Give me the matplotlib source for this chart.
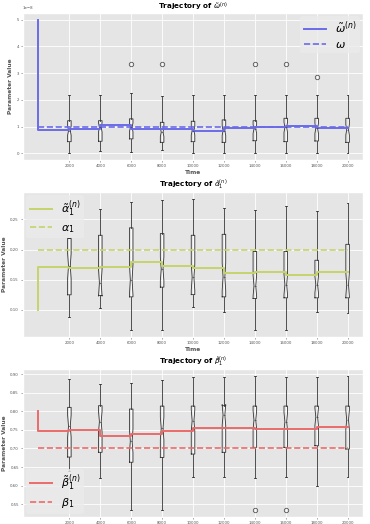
import numpy as np
import matplotlib
matplotlib.use("Agg")
import matplotlib.pyplot as plt

plt.style.use("ggplot")

# ---------------- data ----------------
times = [0, 2000, 4000, 6000, 8000, 10000, 12000, 14000, 16000, 18000, 20000]
positions = [2000, 4000, 6000, 8000, 10000, 12000, 14000, 16000, 18000, 20000]
tick_labels = [str(p) for p in positions]
n_samples = 50  # sample size used for the notch confidence interval

# omega (units of 1e-8)
omega_est = [5.0, 0.875, 0.91, 1.07, 0.91, 0.91, 0.85, 0.94, 0.97, 1.02, 0.94]
omega_true = 1.0
omega_q1 = [0.435, 0.45, 0.54, 0.41, 0.435, 0.41, 0.47, 0.435, 0.46, 0.41]
omega_med = [0.85, 0.97, 0.97, 0.79, 0.85, 0.85, 0.91, 0.97, 0.93, 0.88]
omega_q3 = [1.22, 1.22, 1.29, 1.16, 1.20, 1.25, 1.22, 1.31, 1.31, 1.31]
omega_lo = [0.0, 0.086, 0.06, 0.12, 0.0, 0.0, 0.0, 0.0, 0.0, 0.0]
omega_hi = [2.18, 2.18, 2.25, 2.14, 2.2, 2.18, 2.18, 2.18, 2.18, 2.18]
omega_fliers = [[], [], [3.33], [3.33], [], [], [3.33], [3.33], [2.85], []]

# alpha_1
alpha_est = [0.10, 0.171, 0.169, 0.171, 0.179, 0.173, 0.170, 0.161, 0.163, 0.158, 0.163]
alpha_true = 0.20
alpha_q1 = [0.125, 0.124, 0.1216, 0.1377, 0.1253, 0.1216, 0.1189, 0.12, 0.12, 0.12]
alpha_med = [0.1726, 0.145, 0.150, 0.168, 0.154, 0.155, 0.140, 0.142, 0.142, 0.142]
alpha_q3 = [0.2185, 0.2237, 0.236, 0.2265, 0.2237, 0.2253, 0.1968, 0.1968, 0.1823, 0.2087]
alpha_lo = [0.089, 0.1027, 0.066, 0.066, 0.104, 0.0963, 0.066, 0.066, 0.0963, 0.0947]
alpha_hi = [0.2185, 0.2668, 0.2786, 0.2818, 0.2845, 0.2694, 0.2657, 0.272, 0.264, 0.2765]
alpha_fliers = [[], [], [], [], [], [], [], [], [], []]

# beta_1
beta_est = [0.80, 0.746, 0.750, 0.7335, 0.7397, 0.747, 0.754, 0.754, 0.7514, 0.753, 0.7585]
beta_true = 0.70
beta_q1 = [0.677, 0.6897, 0.663, 0.676, 0.685, 0.6897, 0.703, 0.703, 0.7074, 0.6985]
beta_med = [0.76, 0.772, 0.72, 0.754, 0.775, 0.79, 0.7765, 0.772, 0.785, 0.777]
beta_q3 = [0.8105, 0.815, 0.806, 0.814, 0.814, 0.815, 0.814, 0.814, 0.814, 0.814]
beta_lo = [0.6395, 0.6215, 0.5347, 0.5347, 0.6225, 0.6225, 0.62, 0.6225, 0.5992, 0.6225]
beta_hi = [0.8866, 0.872, 0.875, 0.884, 0.891, 0.891, 0.8955, 0.891, 0.891, 0.8955]
beta_fliers = [[], [], [], [], [], [], [0.534], [0.534], [], []]

# ---------------- helpers ----------------
def make_stats(q1, med, q3, lo, hi, fliers, scale=1.0):
    stats = []
    for i in range(len(med)):
        iqr = (q3[i] - q1[i]) * scale
        m = med[i] * scale
        half = 1.57 * iqr / np.sqrt(n_samples)
        stats.append(dict(med=m, q1=q1[i] * scale, q3=q3[i] * scale,
                          whislo=lo[i] * scale, whishi=hi[i] * scale,
                          fliers=np.array(fliers[i]) * scale,
                          cilo=m - half, cihi=m + half,
                          label=tick_labels[i]))
    return stats


box_c = "#333333"
bprops = dict(color=box_c, lw=0.6)
fprops = dict(marker="o", markerfacecolor="none", markeredgecolor="#555555",
              markersize=3.2, markeredgewidth=0.6)


def panel(ax, stats, est, true, color, title, lab_est, lab_true, loc,
          xlabel=True):
    ax.bxp(stats, positions=positions, widths=230, shownotches=True,
           showfliers=True,
           boxprops=bprops, whiskerprops=bprops, capprops=bprops,
           medianprops=dict(color=box_c, lw=0.4), flierprops=fprops)
    ax.step(times, est, where="pre", color=color, lw=1.4, label=lab_est)
    ax.plot(times, [true] * len(times), ls="--", color=color, lw=1.2,
            label=lab_true)
    ax.set_xticks(positions)
    ax.set_xticklabels(tick_labels)
    ax.tick_params(labelsize=2.8, length=1.5, width=0.4, pad=1.5)
    ax.grid(True, color="white", lw=0.6)
    ax.set_title(title, fontsize=5.2, fontweight="bold", color="black", pad=2.5)
    if xlabel:
        ax.set_xlabel("Time", fontsize=4.2, fontweight="bold", color="#555555",
                      labelpad=1.5)
    ax.set_ylabel("Parameter Value", fontsize=4.2, fontweight="bold",
                  color="#555555", labelpad=2.5)
    ax.set_xlim(-1000, 21000)
    leg = ax.legend(loc=loc, fontsize=8, frameon=True, framealpha=0.8,
                    facecolor="#EBEBEB", edgecolor="none",
                    handlelength=2.0, borderpad=0.3, labelspacing=0.3,
                    borderaxespad=0.3)
    return leg


fig = plt.figure(figsize=(3.7, 5.24), dpi=100)
ax1 = fig.add_axes([0.0622, 0.6947, 0.919, 0.2805])
ax2 = fig.add_axes([0.0622, 0.3569, 0.919, 0.2767])
ax3 = fig.add_axes([0.0622, 0.0134, 0.919, 0.2824])

scale = 1e-8
panel(ax1, make_stats(omega_q1, omega_med, omega_q3, omega_lo, omega_hi,
                      omega_fliers, scale),
      np.array(omega_est) * scale, omega_true * scale, "#6B6BE8",
      r"Trajectory of $\tilde{\omega}^{(n)}$",
      r"$\tilde{\omega}^{(n)}$", r"$\omega$", "upper right")
ax1.yaxis.get_offset_text().set_fontsize(2.8)

panel(ax2, make_stats(alpha_q1, alpha_med, alpha_q3, alpha_lo, alpha_hi,
                      alpha_fliers),
      alpha_est, alpha_true, "#C6D36B",
      r"Trajectory of $\tilde{\alpha}_1^{(n)}$",
      r"$\tilde{\alpha}_1^{(n)}$", r"$\alpha_1$", "upper left")
ax2.set_yticks([0.10, 0.15, 0.20, 0.25])

panel(ax3, make_stats(beta_q1, beta_med, beta_q3, beta_lo, beta_hi,
                      beta_fliers),
      beta_est, beta_true, "#EB6B6B",
      r"Trajectory of $\tilde{\beta}_1^{(n)}$",
      r"$\tilde{\beta}_1^{(n)}$", r"$\beta_1$", "lower left", xlabel=False)

fig.savefig("out.png", dpi=100)
